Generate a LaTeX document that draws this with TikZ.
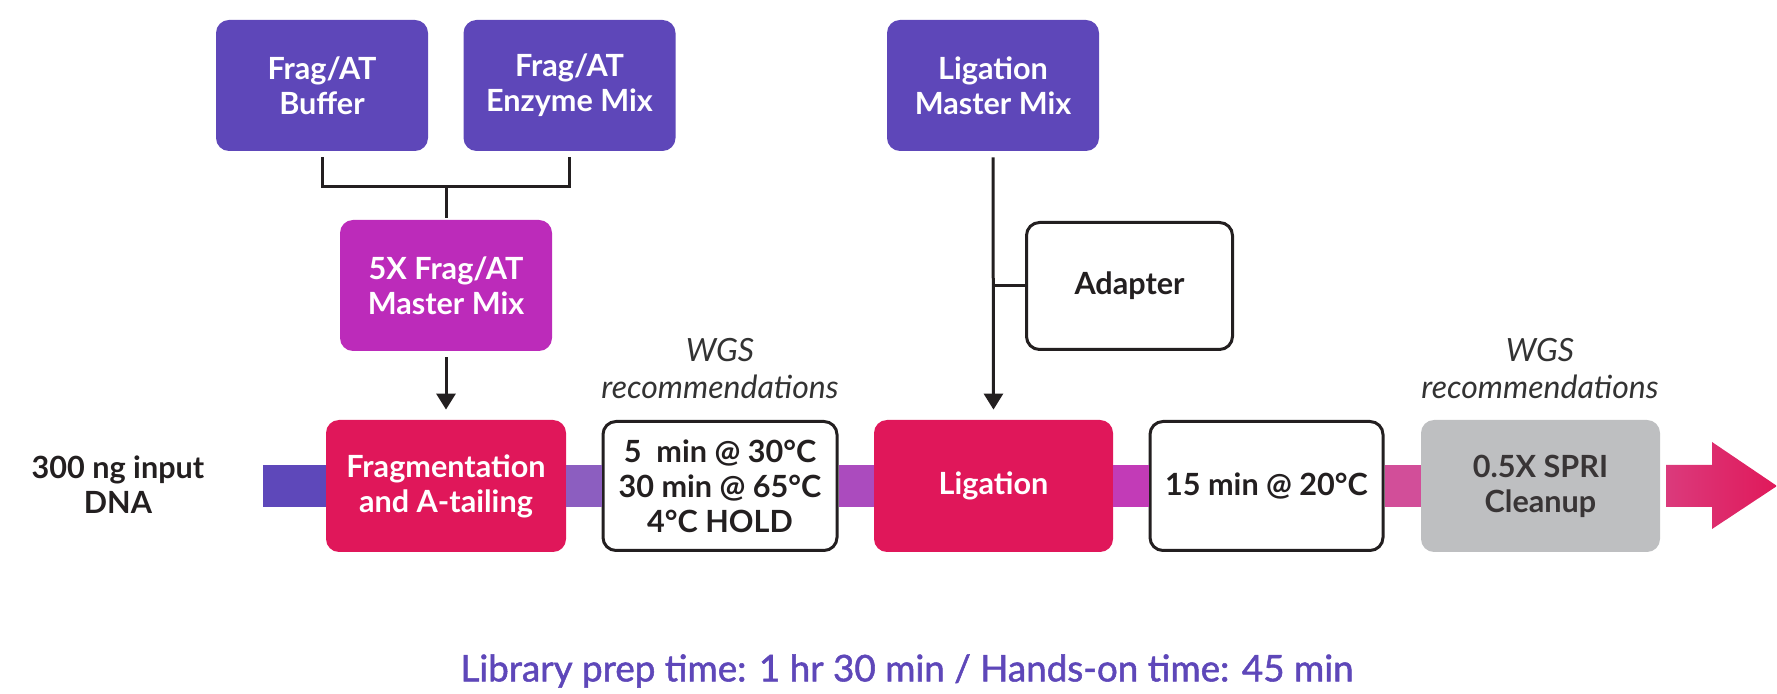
\documentclass[tikz,border=0pt]{standalone}
\usepackage{fontspec}
\setmainfont{Lato}
\newfontfamily\medfont[FakeBold=1.4]{Lato}
\usetikzlibrary{arrows.meta}
\definecolor{vio}{HTML}{5E47B9}
\definecolor{mag}{HTML}{BC2BBA}
\definecolor{crim}{HTML}{E0175A}
\definecolor{grayb}{HTML}{BEBFC1}
\definecolor{ink}{HTML}{231F20}
\definecolor{sA}{HTML}{5E48BA}
\definecolor{sB}{HTML}{8C5EC0}
\definecolor{sC}{HTML}{AB4BBE}
\definecolor{sD}{HTML}{C23BB7}
\definecolor{sE}{HTML}{D24E99}
\definecolor{arL}{HTML}{DB3A7C}
\definecolor{arR}{HTML}{E0195A}
\definecolor{labgray}{HTML}{333333}
\tikzset{
  box/.style={rounded corners=6.5pt, minimum width=106pt, minimum height=65.5pt, align=center,
    font=\bfseries\fontsize{15.3}{17.5}\selectfont, inner sep=0pt},
  filledbox/.style={box, fill=#1, text=white},
  outlbox/.style={box, draw=ink, line width=1.5pt, fill=white, text=ink},
  conn/.style={draw=ink, line width=1.5pt},
  strip/.style={line width=21pt, draw=#1, line cap=butt},
  tip/.style={-{Triangle[width=9.5pt,length=8pt]}},
  note/.style={font=\itshape\fontsize{16}{18.5}\selectfont, text=labgray, align=center},
}
\begin{document}
\begin{tikzpicture}[x=0.5pt,y=-0.5pt]
\useasboundingbox (0,0) rectangle (1777,694);
% top boxes
\node[filledbox=vio] (buf) at (322,85.5) {Frag/AT\\Buffer};
\node[filledbox=vio] (enz) at (569.5,85.5) {Frag/AT\\Enzyme Mix};
\node[filledbox=mag] (mm5) at (446,285.5) {5X Frag/AT\\Master Mix};
\node[filledbox=vio] (ligmm) at (993,85.5) {Ligation\\Master Mix};
\node[outlbox, minimum width=103pt, minimum height=63.5pt] (adapter) at (1129.5,286) {Adapter};
% main row
\coordinate (start) at (263,486);
\node[filledbox=crim, minimum width=120pt, minimum height=66pt] (frag) at (446,486) {Fragmentation\\and A-tailing};
\node[outlbox, minimum width=117pt, minimum height=64.5pt] (wgs1) at (720,486) {5~ min @ 30°C\\30 min @ 65°C\\4°C HOLD};
\node[filledbox=crim, minimum width=119.5pt, minimum height=66pt] (lig) at (993.5,486) {Ligation};
\node[outlbox, minimum width=116.5pt, minimum height=64.5pt] (t15) at (1266.5,486) {15 min @ 20°C};
\node[filledbox=grayb, text=ink!90, minimum width=119.5pt, minimum height=66pt] (spri) at (1540.5,486) {0.5X SPRI\\Cleanup};
% strips
\draw[strip=sA] (start) -- (frag.west);
\draw[strip=sB] (frag.east) -- (wgs1.west);
\draw[strip=sC] (wgs1.east) -- (lig.west);
\draw[strip=sD] (lig.east) -- (t15.west);
\draw[strip=sE] (t15.east) -- (spri.west);
\shade[left color=arL, right color=arR]
  (1666,465) -- (1712,465) -- (1712,442) -- (1777,486) -- (1712,529) -- (1712,507) -- (1666,507) -- cycle;
% connectors
\coordinate (j) at (446,187);
\draw[conn] ([yshift=-3pt]buf.south) |- (j) -| ([yshift=-3pt]enz.south);
\draw[conn, shorten >=1pt] (j) -- (mm5.north);
\draw[conn, tip, shorten <=3pt, shorten >=5pt] (mm5.south) -- (frag.north);
\draw[conn, tip, shorten <=3pt, shorten >=5pt] (ligmm.south) -- (lig.north);
\draw[conn] (adapter.west) -- (adapter.west -| ligmm.south);
% labels
\node[font=\bfseries\fontsize{15.3}{17.5}\selectfont, text=ink, align=center] (input) at (118,485) {300 ng input\\DNA};
\node[note] (rec1) at (720,369) {WGS\\recommendations};
\node[note] (rec2) at (1540,369) {WGS\\recommendations};
\node[font=\medfont\fontsize{18.4}{22}\selectfont, text=vio] (time) at (907,671) {Library prep time: 1 hr 30 min / Hands-on time: 45 min};
\end{tikzpicture}
\end{document}
